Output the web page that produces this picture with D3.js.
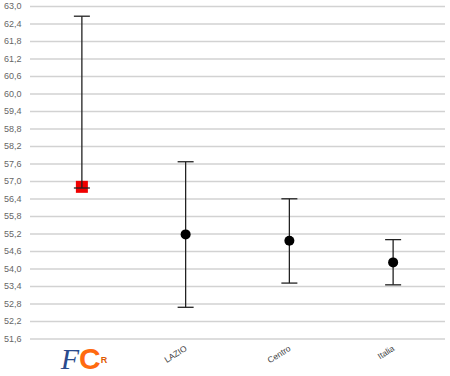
<!DOCTYPE html>
<html>
<head>
<meta charset="utf-8">
<script src="https://cdn.jsdelivr.net/npm/d3@7"></script>
<style>
  body { margin: 0; background: #fff; }
  text { font-family: "Liberation Sans", Arial, sans-serif; }
</style>
</head>
<body>
<div id="chart-container"></div>
<script>
const categories = ['FCR', 'LAZIO', 'Centro', 'Italia'];
const means = [56.8, 55.17, 54.95, 54.21];
const upper = [62.65, 57.66, 56.39, 54.99];
const lower = [56.76, 52.67, 53.5, 53.44];
const yTicks = [51.6, 52.2, 52.8, 53.4, 54.0, 54.6, 55.2, 55.8, 56.4, 57.0,
                57.6, 58.2, 58.8, 59.4, 60.0, 60.6, 61.2, 61.8, 62.4, 63.0];

const svgCanvas = {width: 450, height: 376};
const chartPadding = {top: 6, right: 5, bottom: 37.5, left: 30};

const svg = d3.select('#chart-container')
        .append('svg')
        .attr('width', svgCanvas.width)
        .attr('height', svgCanvas.height);

const yScale = d3.scaleLinear()
        .domain([51.6, 63.0])
        .range([svgCanvas.height - chartPadding.bottom, chartPadding.top]);

const xScale = d3.scaleBand()
        .domain(categories)
        .range([chartPadding.left, svgCanvas.width - chartPadding.right]);

const fmt = d => d.toFixed(1).replace('.', ',');

// y axis + gridlines
const yAxis = svg.append('g')
        .attr('transform', `translate(${chartPadding.left},0)`)
        .call(d3.axisLeft(yScale)
            .tickValues(yTicks)
            .tickSize(-(svgCanvas.width - chartPadding.left - chartPadding.right))
            .tickPadding(0)
            .tickFormat(fmt));
yAxis.select('.domain').remove();
yAxis.selectAll('.tick line')
        .attr('stroke', '#d2d2d2')
        .attr('stroke-width', 1.3);
yAxis.selectAll('.tick text')
        .attr('text-anchor', 'start')
        .attr('x', -26)
        .attr('fill', '#666')
        .attr('font-size', 9);

const cx = d => xScale(d) + xScale.bandwidth() / 2;
const capW = 16;

const bars = svg.append('g').selectAll('g')
        .data(categories)
        .enter()
        .append('g');

// red marker for the first category (drawn under the whisker)
bars.filter((d, i) => i === 0)
        .append('rect')
        .attr('x', d => cx(d) - 6)
        .attr('y', (d, i) => yScale(means[0]) - 6)
        .attr('width', 12)
        .attr('height', 12)
        .attr('fill', '#f00000');

bars.append('line')
        .attr('x1', cx).attr('x2', cx)
        .attr('y1', (d, i) => yScale(upper[i]))
        .attr('y2', (d, i) => yScale(lower[i]))
        .attr('stroke', '#222')
        .attr('stroke-width', 1.3);

bars.append('line')
        .attr('x1', d => cx(d) - capW / 2).attr('x2', d => cx(d) + capW / 2)
        .attr('y1', (d, i) => yScale(upper[i]))
        .attr('y2', (d, i) => yScale(upper[i]))
        .attr('stroke', '#222')
        .attr('stroke-width', 1.3);

bars.append('line')
        .attr('x1', d => cx(d) - capW / 2).attr('x2', d => cx(d) + capW / 2)
        .attr('y1', (d, i) => yScale(lower[i]))
        .attr('y2', (d, i) => yScale(lower[i]))
        .attr('stroke', '#222')
        .attr('stroke-width', 1.3);

bars.filter((d, i) => i > 0)
        .append('circle')
        .attr('cx', cx)
        .attr('cy', d => yScale(means[categories.indexOf(d)]))
        .attr('r', 5)
        .attr('fill', '#000');

// x labels (rotated)
svg.append('g').selectAll('text')
        .data(categories.slice(1))
        .enter()
        .append('text')
        .attr('transform', d => `translate(${cx(d) + 2},350) rotate(-32)`)
        .attr('text-anchor', 'end')
        .attr('font-size', 8.5)
        .attr('fill', '#444')
        .text(d => d);

// FCR logo as a single text
const logoX = cx(categories[0]);
const logo = svg.append('text')
        .attr('x', logoX + 2)
        .attr('y', 369)
        .attr('text-anchor', 'middle')
        .attr('font-size', 30);
logo.append('tspan')
        .attr('font-family', '"Liberation Serif", serif')
        .attr('font-style', 'italic')
        .attr('fill', '#2a4a8c')
        .text('F');
logo.append('tspan')
        .attr('font-weight', 'bold')
        .attr('fill', '#ff6a10')
        .text('C');
logo.append('tspan')
        .attr('font-weight', 'bold')
        .attr('font-size', 9)
        .attr('dy', -6)
        .attr('fill', '#e05a00')
        .text('R');
</script>
</body>
</html>
